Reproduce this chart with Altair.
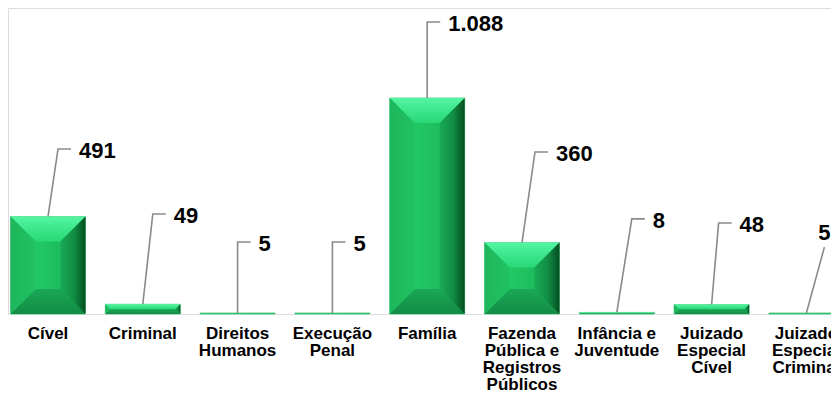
import altair as alt
import pandas as pd

# ---- data ----
categories = ["Cível", "Criminal", "Direitos Humanos", "Execução Penal", "Família",
              "Fazenda Pública e Registros Públicos", "Infância e Juventude",
              "Juizado Especial Cível", "Juizado Especial Criminal"]
category_lines = ["Cível", "Criminal", "Direitos\nHumanos", "Execução\nPenal", "Família",
                  "Fazenda\nPública e\nRegistros\nPúblicos", "Infância e\nJuventude",
                  "Juizado\nEspecial\nCível", "Juizado\nEspecial\nCriminal"]
values = [491, 49, 5, 5, 1088, 360, 8, 48, 5]

# callout (leader line) layout
leader_dx_px = [10, 10, 0, 0, 0, 13, 15, 7, 18]               # lean of leader (px)
leader_top = [831, 504, 363, 363, 1471, 816, 479, 458, 337]   # leader end (data units)
label_y = [831, 504, 363, 363, 1471, 816, 479, 458, 418]      # label height (data units)
leader_kind = ["bend"] * 8 + ["straight"]

# ---- geometry (style) ----
STEP = 94.8          # px per category
SY = 0.19853         # px per data unit on y
W, H = 823, 306
X0 = -40.0 / STEP
X_DOMAIN = [X0, X0 + W / STEP]
Y_MAX = H / SY
PX = 1 / STEP        # x data units per px
BAR_W = 75
HW = BAR_W / 2 * PX
HOOK = 13
GAP = 8
BEVEL = 25

def fmt(v):
    return f"{v:,}".replace(",", ".")

bars = pd.DataFrame({
    "idx": list(range(len(categories))),
    "cat": categories,
    "lines": category_lines,
    "value": values,
    "txt": [fmt(v) for v in values],
    "kind": leader_kind,
    "label_y": label_y,
    "tx": [i + (dx + (HOOK + GAP if k == "bend" else 0)) * PX
           for i, (dx, k) in enumerate(zip(leader_dx_px, leader_kind))],
})
bars["zero"] = 0

# bevel facets derived from each bar's value and the bar width
top_rows, bot_rows, side_rows = [], [], []
for i, v in enumerate(values):
    h_px = v * SY
    b_px = min(BEVEL, h_px / 2)
    bx, by = b_px * PX, b_px / SY
    L, R = i - HW, i + HW
    for xx, yy2 in [(L, v), (L + bx, v - by), (R - bx, v - by), (R, v)]:
        top_rows.append({"cat": categories[i], "x": xx, "y": v, "y2": yy2})
    for xx, yy2 in [(L, 0), (L + bx, by), (R - bx, by), (R, 0)]:
        bot_rows.append({"cat": categories[i], "x": xx, "y": 0, "y2": yy2})
    for side, edge, inner in [("L", L, L + bx), ("R", R, R - bx)]:
        for yy, xx2 in [(0, edge), (by, inner), (v - by, inner), (v, edge)]:
            side_rows.append({"cat": categories[i], "side": side, "x": edge, "x2": xx2, "y": yy})
top_df = pd.DataFrame(top_rows)
bot_df = pd.DataFrame(bot_rows)
side_df = pd.DataFrame(side_rows)

rows = []
for i, (v, dx, top, k) in enumerate(zip(values, leader_dx_px, leader_top, leader_kind)):
    pts = [(i, v), (i + dx * PX, top)]
    if k == "bend":
        pts.append((i + (dx + HOOK) * PX, top))
    for o, (xx, yy) in enumerate(pts):
        rows.append({"cat": categories[i], "o": o, "lx": xx, "ly": yy})
leaders = pd.DataFrame(rows)

xs = alt.Scale(domain=X_DOMAIN, nice=False, zero=False, padding=0)
ys = alt.Scale(domain=[0, Y_MAX], nice=False, padding=0)

FONT = "Liberation Sans"

def grad(stops, horizontal):
    return alt.Gradient(gradient="linear", x1=0, y1=0,
                        x2=1 if horizontal else 0, y2=0 if horizontal else 1,
                        stops=[alt.GradientStop(color=c, offset=o) for o, c in stops])

face = grad([(0, "#1fbe60"), (0.35, "#22c865"), (0.7, "#1dbb5d"), (1, "#17a953")], True)
top_grad = grad([(0, "#55f5a3"), (0.5, "#3ce68c"), (1, "#2ad877")], False)
bot_grad = grad([(0, "#1aa956"), (1, "#128b45")], False)
left_grad = grad([(0, "#1eb65c"), (1, "#21c263")], True)
right_grad = grad([(0, "#18aa55"), (0.55, "#118c44"), (1, "#044d1f")], True)

base = alt.Chart(bars)

body = base.mark_bar(size=BAR_W, color=face, stroke="#6fd69c", strokeWidth=1).encode(
    x=alt.X("idx:Q", scale=xs, axis=None),
    y=alt.Y("value:Q", scale=ys, axis=None),
    y2="zero:Q")

top_bev = alt.Chart(top_df).mark_area(color=top_grad).encode(
    x=alt.X("x:Q", scale=xs), y=alt.Y("y:Q", scale=ys), y2="y2:Q", detail="cat:N")
bot_bev = alt.Chart(bot_df).mark_area(color=bot_grad).encode(
    x=alt.X("x:Q", scale=xs), y=alt.Y("y:Q", scale=ys), y2="y2:Q", detail="cat:N")
left_bev = alt.Chart(side_df).transform_filter(alt.datum.side == "L").mark_area(
    orient="horizontal", color=left_grad).encode(
    y=alt.Y("y:Q", scale=ys), x=alt.X("x:Q", scale=xs), x2="x2:Q", detail="cat:N")
right_bev = alt.Chart(side_df).transform_filter(alt.datum.side == "R").mark_area(
    orient="horizontal", color=right_grad).encode(
    y=alt.Y("y:Q", scale=ys), x=alt.X("x:Q", scale=xs), x2="x2:Q", detail="cat:N")

lead = alt.Chart(leaders).mark_line(color="#8a8a8a", strokeWidth=1.6).encode(
    x=alt.X("lx:Q", scale=xs), y=alt.Y("ly:Q", scale=ys),
    detail="cat:N", order="o:O")

val_bend = base.transform_filter(alt.datum.kind == "bend").mark_text(
    align="left", baseline="middle", dy=2, font=FONT, fontWeight="bold",
    fontSize=22, color="#000000").encode(
    x=alt.X("tx:Q", scale=xs), y=alt.Y("label_y:Q", scale=ys), text="txt:N")
val_straight = base.transform_filter(alt.datum.kind == "straight").mark_text(
    align="center", baseline="middle", dy=2, font=FONT, fontWeight="bold",
    fontSize=22, color="#000000").encode(
    x=alt.X("tx:Q", scale=xs), y=alt.Y("label_y:Q", scale=ys), text="txt:N")

cat_text = base.mark_text(
    align="center", baseline="top", dy=11.5, lineBreak="\n", lineHeight=17.3,
    font=FONT, fontWeight="bold", fontSize=17, color="#000000").encode(
    x=alt.X("idx:Q", scale=xs), y=alt.Y("zero:Q", scale=ys), text="lines:N")

chart = alt.layer(body, top_bev, bot_bev, left_bev, right_bev, lead,
                  val_bend, val_straight, cat_text).properties(
    width=W, height=H,
    autosize=alt.AutoSizeParams(type="none"),
    padding={"left": 0, "top": 0, "right": 0, "bottom": 78},
).configure_view(stroke=None).configure(background="#ffffff")

chart.save("out.html", embed_options={"renderer": "svg", "actions": False})
